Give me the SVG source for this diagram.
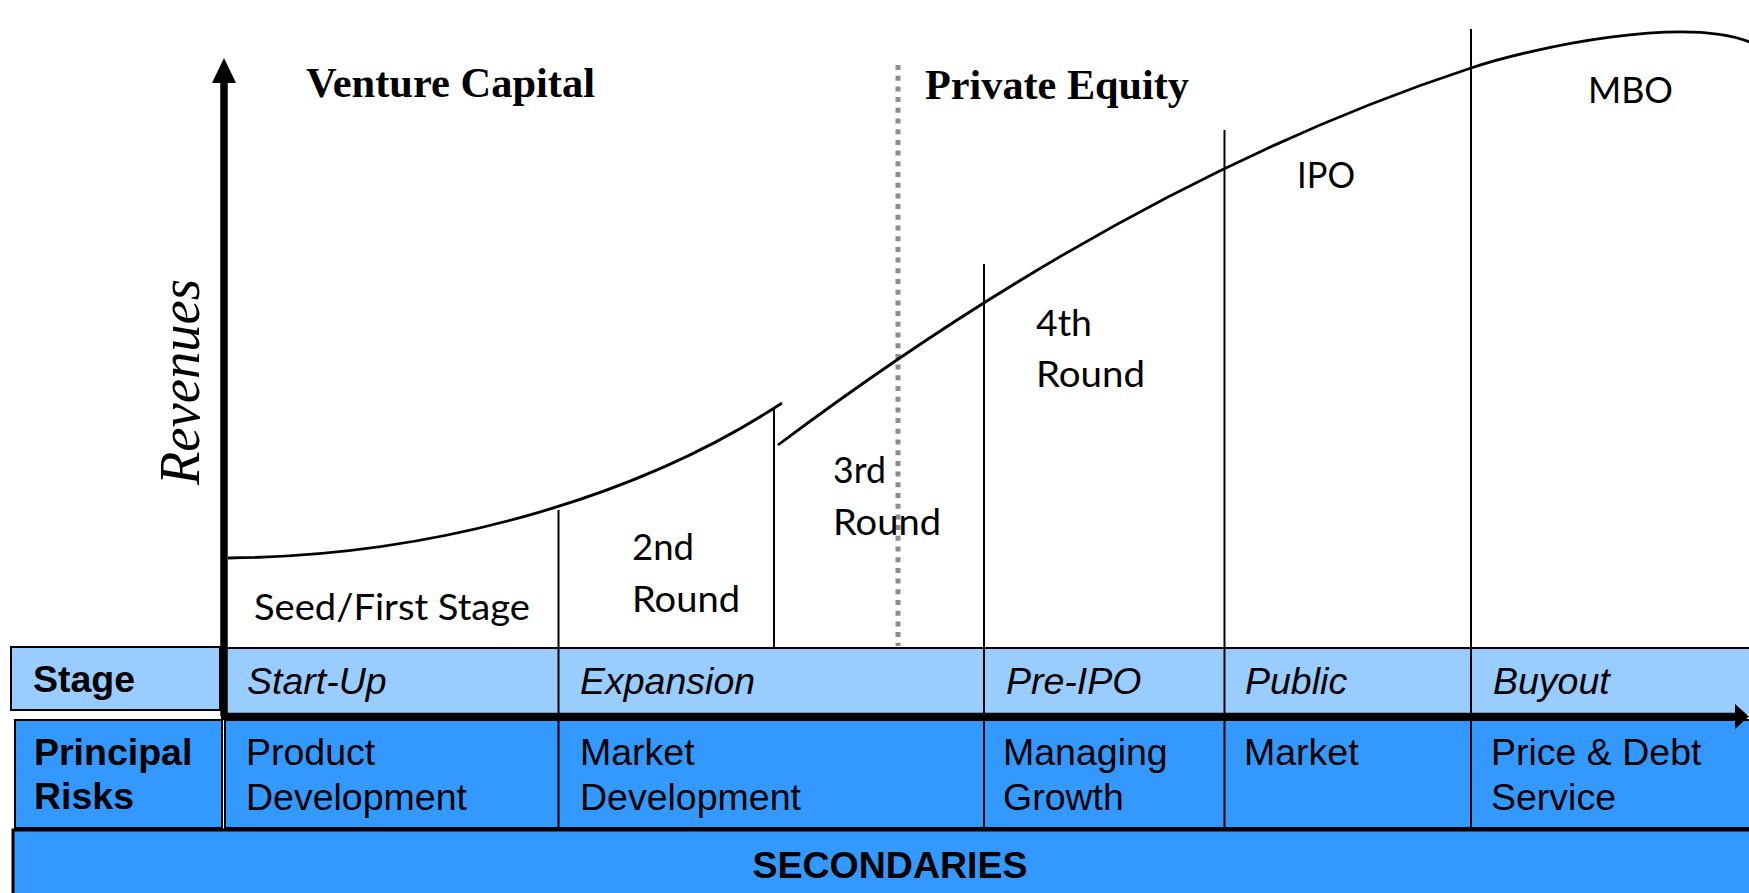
<svg xmlns="http://www.w3.org/2000/svg" width="1749" height="893" viewBox="0 0 1749 893">
  <style>
    .stage { fill: #99CCFF; }
    .risk { fill: #3399FF; }
    .edge { stroke: #000; stroke-width: 2; }
    .div { stroke: #000; stroke-width: 2; fill: none; }
    .curve { stroke: #000; stroke-width: 2.8; fill: none; }
    .axis { stroke: #000; stroke-width: 7.5; fill: none; }
    .head { fill: #000; }
    .sans { font-family: "Liberation Sans", Arial, sans-serif; font-size: 37.5px; fill: #000; }
    .bold { font-weight: bold; }
    .ital { font-style: italic; }
    .serif { font-family: "Liberation Serif", "Times New Roman", serif; font-weight: bold; font-size: 42px; fill: #000; }
    .round { font-family: Lato, "Open Sans", sans-serif; font-size: 36px; fill: #000; }
    .dots { stroke: #8c8c8c; stroke-width: 5; stroke-dasharray: 5 5.7; fill: none; }
  </style>

  <rect width="1749" height="893" fill="#fff"/>

  <!-- band titles -->
  <g id="title-vc"><text class="serif" x="306" y="97" textLength="289" lengthAdjust="spacingAndGlyphs">Venture Capital</text></g>
  <g id="title-pe"><text class="serif" x="925" y="99" textLength="264" lengthAdjust="spacingAndGlyphs">Private Equity</text></g>

  <!-- divider between VC and PE -->
  <line class="dots" x1="898" y1="65" x2="898" y2="646"/>

  <!-- y-axis label -->
  <g id="y-label">
    <text transform="translate(199,485) rotate(-90)" font-family="'Liberation Serif', 'Times New Roman', serif" font-style="italic" font-size="57" textLength="206" lengthAdjust="spacingAndGlyphs">Revenues</text>
  </g>

  <!-- revenue curve -->
  <g id="curve">
    <path class="curve" d="M228,558 C450,556 650,490 782,403"/>
    <path class="curve" d="M778,445 C1009,272 1240,144 1471,68 C1534,47.2 1686,14.9 1752,43"/>
  </g>

  <!-- stage rows -->
  <g id="row-stage">
    <rect id="stage-head" class="stage edge" x="11" y="647" width="209" height="63"/>
    <rect class="stage" x="224" y="648" width="1530" height="66"/>
    <line class="div" x1="224" y1="648" x2="1749" y2="648"/>
    <text class="sans bold" x="33" y="692">Stage</text>
  </g>
  <g id="row-risk">
    <rect id="risk-head" class="risk edge" x="15" y="720" width="207" height="108"/>
    <rect class="risk edge" x="225" y="720" width="1530" height="108"/>
    <text class="sans bold" x="34" y="765">Principal</text>
    <text class="sans bold" x="34" y="809">Risks</text>
  </g>
  <g id="row-secondaries">
    <rect class="risk" x="13" y="830" width="1740" height="70" stroke="#000" stroke-width="3"/>
    <text class="sans bold" x="890" y="878" text-anchor="middle">SECONDARIES</text>
  </g>

  <!-- column dividers -->
  <g id="dividers">
    <line class="div" x1="558.5" y1="510" x2="558.5" y2="828"/>
    <line class="div" x1="774" y1="407" x2="774" y2="648"/>
    <line class="div" x1="984" y1="264" x2="984" y2="828"/>
    <line class="div" x1="1224.5" y1="130" x2="1224.5" y2="828"/>
    <line class="div" x1="1471" y1="29" x2="1471" y2="828"/>
  </g>

  <!-- funding rounds -->
  <g id="seed"><text class="round" x="254" y="620" textLength="276" lengthAdjust="spacingAndGlyphs">Seed/First Stage</text></g>
  <g id="round-2">
    <text class="round" x="632" y="560" textLength="62" lengthAdjust="spacingAndGlyphs">2nd</text>
    <text class="round" x="632" y="612" textLength="108" lengthAdjust="spacingAndGlyphs">Round</text>
  </g>
  <g id="round-3">
    <text class="round" x="833" y="483" textLength="53" lengthAdjust="spacingAndGlyphs">3rd</text>
    <text class="round" x="833" y="535" textLength="108" lengthAdjust="spacingAndGlyphs">Round</text>
  </g>
  <g id="round-4">
    <text class="round" x="1036" y="336" textLength="56" lengthAdjust="spacingAndGlyphs">4th</text>
    <text class="round" x="1036" y="387" textLength="109" lengthAdjust="spacingAndGlyphs">Round</text>
  </g>
  <g id="ipo"><text class="round" x="1297" y="188" textLength="58" lengthAdjust="spacingAndGlyphs">IPO</text></g>
  <g id="mbo"><text class="round" x="1588" y="103" textLength="85" lengthAdjust="spacingAndGlyphs">MBO</text></g>

  <!-- stage names -->
  <g id="stage-names">
    <text class="sans ital" x="247" y="694">Start-Up</text>
    <text class="sans ital" x="580" y="694">Expansion</text>
    <text class="sans ital" x="1006" y="694">Pre-IPO</text>
    <text class="sans ital" x="1245" y="694">Public</text>
    <text class="sans ital" x="1493" y="694">Buyout</text>
  </g>

  <!-- principal risks -->
  <g id="risks">
    <text class="sans" x="246" y="765">Product</text>
    <text class="sans" x="246" y="810">Development</text>
    <text class="sans" x="580" y="765">Market</text>
    <text class="sans" x="580" y="810">Development</text>
    <text class="sans" x="1003" y="765">Managing</text>
    <text class="sans" x="1003" y="810">Growth</text>
    <text class="sans" x="1244" y="765">Market</text>
    <text class="sans" x="1491" y="765">Price &amp; Debt</text>
    <text class="sans" x="1491" y="810">Service</text>
  </g>

  <!-- axes -->
  <g id="axes">
    <line class="axis" x1="224" y1="80" x2="224" y2="716"/>
    <polygon class="head" points="224,58 212,83 236,83"/>
    <line class="axis" x1="221" y1="716.5" x2="1737" y2="716.5" stroke-width="8"/>
    <polygon class="head" points="1735,704 1749,716.5 1735,729"/>
  </g>
</svg>
